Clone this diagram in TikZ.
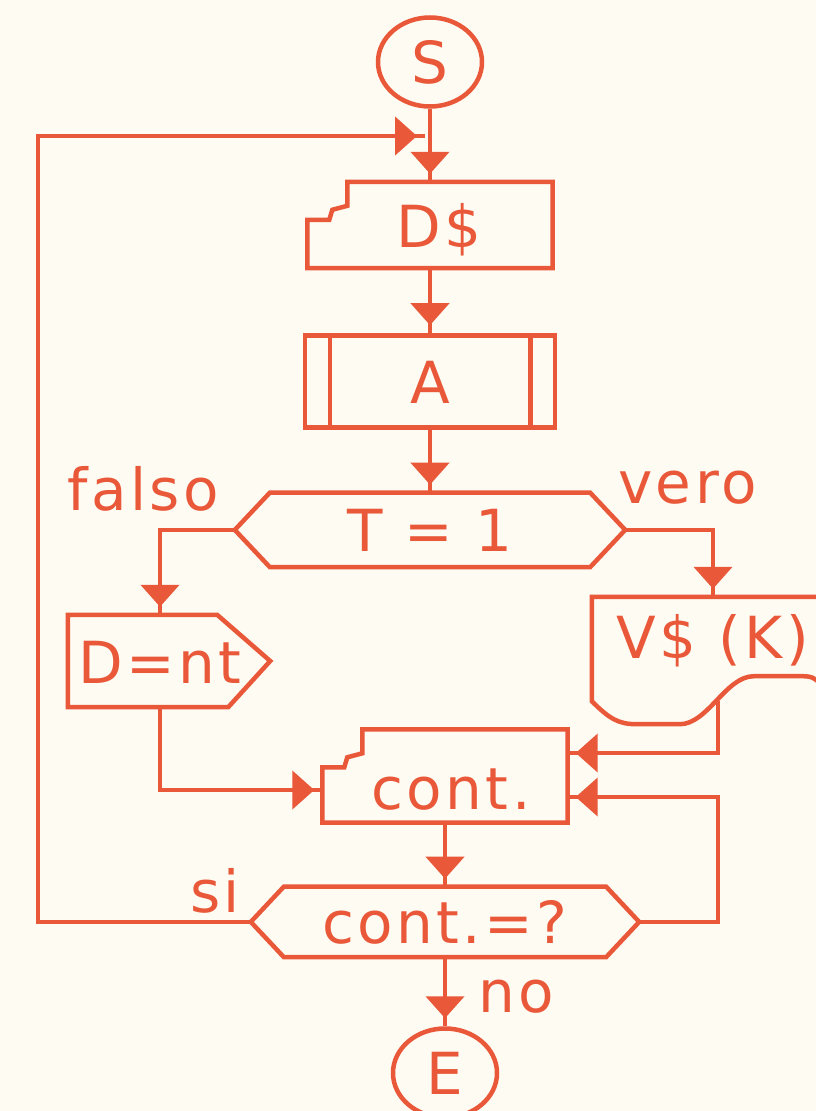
\documentclass[tikz,border=0pt]{standalone}
\usepackage{fontspec}
\setmainfont{DejaVu Sans}[LetterSpace=6.0]
\usetikzlibrary{positioning, calc, shapes.geometric, arrows.meta}
\definecolor{flowred}{RGB}{234,88,58}
\definecolor{paper}{RGB}{253,251,242}

\begin{document}
\begin{tikzpicture}[
  x=1pt, y=-1pt,
  font=\fontsize{58}{60}\selectfont,
  flowred,
  outline/.style={draw=flowred, line width=4.5pt, line join=miter},
  terminal/.style={ellipse, outline, minimum width=104pt, minimum height=89pt, inner sep=0pt},
  block/.style={rectangle, inner sep=0pt, text height=44pt, text depth=0pt},
  flow/.style={
    draw=flowred,
    line width=4.5pt,
    -{Triangle[width=38pt, length=22pt, sep=8pt]},
    postaction={draw=flowred, arrows=-},
  },
  tag/.style={anchor=base west, inner sep=0pt},
]
\useasboundingbox (0,0) rectangle (816,1111);
\fill[paper] (0,0) rectangle (816,1111);
\clip (0,0) rectangle (816,1111);

% --- Start ---
\node[terminal] (start) at (430,62) {S};

% --- D$ ---
\node[block, minimum width=245pt, minimum height=86pt] (dset) at (430,225) {\hspace*{18pt}D\$};
\draw[outline] ($(dset.north west)+(40,0)$) -- (dset.north east) -- (dset.south east)
  -- (dset.south west) -- ($(dset.north west)+(0,38)$) -- ($(dset.north west)+(22,38)$)
  -- ($(dset.north west)+(25,28)$) -- ($(dset.north west)+(40,24)$) -- cycle;

% --- A ---
\node[block, outline, minimum width=250pt, minimum height=92pt, below=65pt of dset] (apred) {A};
\draw[outline] ($(apred.north west)+(27,0)$) -- ($(apred.south west)+(27,0)$);
\draw[outline] ($(apred.north east)+(-27,0)$) -- ($(apred.south east)+(-27,0)$);

% --- T = 1 ---
\node[block, minimum width=390pt, minimum height=74pt, below=63pt of apred] (test1) {T = 1};
\draw[outline] (test1.west) -- ($(test1.north west)+(35,0)$) -- ($(test1.north east)+(-35,0)$)
  -- (test1.east) -- ($(test1.south east)+(-35,0)$) -- ($(test1.south west)+(35,0)$) -- cycle;
\node[tag] (lfalso) at (67,510) {falso};
\node[tag] (lvero) at (618,503) {vero};

% --- D=nt ---
\node[block, minimum width=184pt, minimum height=92pt] (dnt) at (160,661) {D=nt};
\draw[outline] (dnt.north west) -- ($(dnt.north east)+(-35,0)$) -- ($(dnt.east)+(18,0)$)
  -- ($(dnt.south east)+(-24,0)$) -- (dnt.south west) -- cycle;

% --- V$ (K) ---
\node[block, minimum width=242pt, minimum height=104pt, text depth=25pt] (vk) at (713,649) {V\$ (K)};
\draw[outline] (vk.north east) -- (vk.north west) -- (vk.south west)
  .. controls +(18,18) and +(-18,0) .. ($(vk.south west)+(45,23)$)
  -- ($(vk.south west)+(88,23)$)
  .. controls +(28,0) and +(-28,0) .. ($(vk.south west)+(162,-25)$)
  -- ($(vk.south west)+(208,-25)$)
  .. controls +(15,0) .. ($(vk.south west)+(245,2)$);
\coordinate (vkfoot) at ($(vk.south west)+(126,0)$);

% --- cont. ---
\node[block, minimum width=245pt, minimum height=93pt, text height=66pt] (cont) at (445,776) {\hspace*{12pt}cont.};
\draw[outline] ($(cont.north west)+(40,0)$) -- (cont.north east) -- (cont.south east)
  -- (cont.south west) -- ($(cont.north west)+(0,38)$) -- ($(cont.north west)+(22,38)$)
  -- ($(cont.north west)+(25,28)$) -- ($(cont.north west)+(40,24)$) -- cycle;

% --- cont.=? ---
\node[block, minimum width=388pt, minimum height=70pt, below=64pt of cont] (test2) {cont.=?};
\draw[outline] (test2.west) -- ($(test2.north west)+(33,0)$) -- ($(test2.north east)+(-33,0)$)
  -- (test2.east) -- ($(test2.south east)+(-33,0)$) -- ($(test2.south west)+(33,0)$) -- cycle;
\node[tag] (lsi) at (190,912) {si};
\node[tag] (lno) at (478,1012) {no};

% --- End ---
\node[terminal] (stop) at (445,1073) {E};

% loop and entry points
\coordinate (join) at (425,136);
\coordinate (looptop) at (38,136);
\coordinate (dntin) at ($(cont.west)+(0,14)$);
\coordinate (vkin) at ($(cont.east)+(0,-23)$);
\coordinate (loopin) at ($(cont.east)+(0,21)$);

% connectors
\draw[flow] (start.south) -- (dset.north);
\draw[flow] (test2.west) -| (looptop) -- (join);
\draw[flow] (dset.south) -- (apred.north);
\draw[flow] (apred.south) -- (test1.north);
\draw[flow] (test1.west) -| (dnt.north);
\draw[flow] (test1.east) -| (vk.north);
\draw[flow] (dnt.south) |- (dntin);
\draw[flow] (vkfoot) |- (vkin);
\draw[flow] (test2.east) -| (vkfoot |- loopin) -- (loopin);
\draw[flow] (cont.south) -- (test2.north);
\draw[flow] (test2.south) -- (stop.north);
\end{tikzpicture}
\end{document}
